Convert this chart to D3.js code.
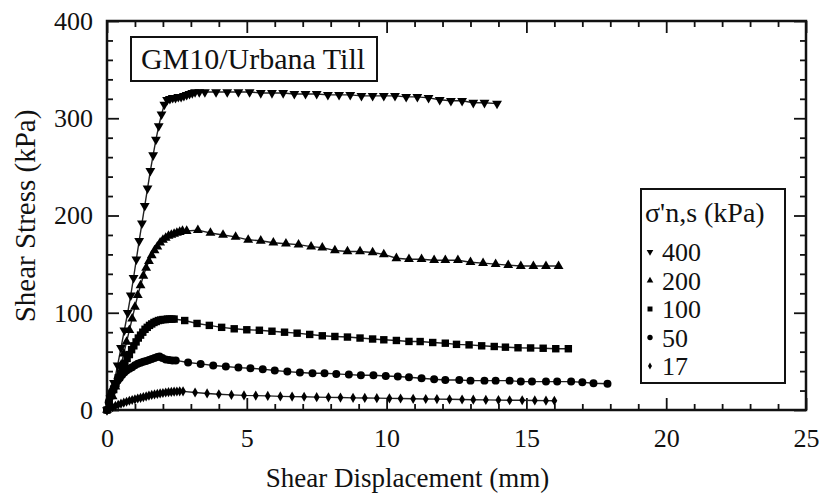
<!DOCTYPE html>
<html>
<head>
<meta charset="utf-8">
<script src="https://cdn.jsdelivr.net/npm/d3@7"></script>
<style>
	body { margin: 0; background: #fff; }
	svg { display: block; }
	text { font-family: "Times New Roman", "Liberation Serif", serif; fill: #111; }
</style>
</head>
<body>
<div id="chart"></div>
<script>
// Shear displacement (mm) and shear stress (kPa) per normal stress
const disp400 = [0, 0.12, 0.25, 0.38, 0.5, 0.62, 0.74, 0.85, 0.95, 1.05, 1.15, 1.25, 1.35, 1.45, 1.55, 1.65, 1.75, 1.85, 1.95, 2.05, 2.15, 2.25, 2.35, 2.45, 2.55, 2.65, 2.75, 2.85, 2.95, 3.05, 3.15, 3.3, 3.5, 3.9, 4.3, 4.7, 5.1, 5.5, 5.9, 6.3, 6.7, 7.1, 7.5, 7.9, 8.3, 8.7, 9.1, 9.5, 9.9, 10.3, 10.7, 11.1, 11.5, 11.9, 12.3, 12.7, 13.1, 13.5, 13.95];
const stress400 = [0, 12, 28, 46, 64, 82, 100, 118, 136, 155, 174, 192, 210, 228, 246, 262, 278, 292, 304, 314, 319, 320, 321, 321, 322, 322, 323, 324, 325, 326, 327, 327, 327, 327, 327, 327, 327, 326, 326, 326, 325, 325, 325, 324, 324, 324, 323, 323, 323, 323, 322, 322, 321, 319, 318, 318, 316, 316, 315];

const disp200 = [0, 0.1, 0.2, 0.3, 0.4, 0.5, 0.6, 0.7, 0.8, 0.9, 1.0, 1.1, 1.2, 1.3, 1.4, 1.5, 1.6, 1.7, 1.8, 1.9, 2.0, 2.1, 2.2, 2.3, 2.4, 2.5, 2.6, 2.7, 2.85, 3.25, 3.7, 4.15, 4.6, 5.05, 5.5, 5.95, 6.4, 6.85, 7.3, 7.7, 8.15, 8.6, 9.05, 9.5, 9.9, 10.35, 10.8, 11.25, 11.7, 12.1, 12.55, 13.0, 13.45, 13.9, 14.35, 14.8, 15.25, 15.7, 16.15];
const stress200 = [0, 6, 14, 24, 35, 46, 58, 70, 82, 94, 106, 118, 128, 138, 146, 153, 159, 164, 168, 172, 175, 177, 179, 180, 181, 182, 183, 184, 184, 185, 182, 180, 178, 175, 174, 172, 171, 170, 168, 167, 164, 163, 163, 162, 160, 156, 155, 155, 154, 154, 154, 152, 151, 150, 149, 148, 148, 148, 148];

const disp100 = [0, 0.08, 0.16, 0.24, 0.32, 0.4, 0.48, 0.56, 0.64, 0.72, 0.8, 0.88, 0.96, 1.04, 1.12, 1.2, 1.28, 1.36, 1.44, 1.52, 1.6, 1.68, 1.76, 1.84, 1.92, 2.0, 2.08, 2.16, 2.24, 2.32, 2.4, 2.78, 3.22, 3.66, 4.1, 4.55, 5.0, 5.45, 5.9, 6.35, 6.8, 7.25, 7.7, 8.15, 8.6, 9.05, 9.5, 9.9, 10.35, 10.8, 11.2, 11.65, 12.1, 12.5, 12.95, 13.4, 13.85, 14.25, 14.7, 15.15, 15.6, 16.05, 16.5];
const stress100 = [0, 8, 15, 21, 27, 33, 38, 43, 48, 53, 57, 62, 66, 70, 74, 77, 80, 83, 85, 87, 88.5, 90, 91, 92, 92.5, 93, 93, 93.5, 93.5, 93.5, 93.5, 92, 89, 87, 85, 83.5, 82.5, 82, 81, 80, 79, 77.7, 76.3, 75.6, 75, 74, 73, 72.2, 71.5, 70.5, 70.4, 69.4, 68.7, 67.5, 67, 66, 65.3, 64.6, 64, 63.8, 63.5, 63, 63];

const disp50 = [0, 0.06, 0.12, 0.18, 0.24, 0.3, 0.38, 0.46, 0.54, 0.62, 0.7, 0.8, 0.9, 1.0, 1.1, 1.2, 1.3, 1.4, 1.5, 1.6, 1.7, 1.8, 1.88, 1.98, 2.1, 2.22, 2.34, 2.46, 2.9, 3.35, 3.8, 4.25, 4.7, 5.13, 5.57, 6.0, 6.45, 6.9, 7.35, 7.78, 8.2, 8.65, 9.08, 9.53, 9.97, 10.4, 10.8, 11.25, 11.7, 12.1, 12.6, 13.0, 13.5, 13.9, 14.4, 14.8, 15.2, 15.7, 16.1, 16.6, 17.0, 17.4, 17.9];
const stress50 = [0, 8, 14, 19, 23, 27, 30, 33, 36, 38.5, 40.5, 42.5, 44, 46, 47.5, 48.5, 49.5, 50.5, 51.5, 52.5, 53.5, 54.5, 55, 53.5, 52, 51.5, 51, 51, 48.8, 47.4, 45.7, 44.7, 43.6, 43, 42, 40.6, 39.5, 38.5, 37.8, 37.8, 37.1, 36.4, 35.7, 35.7, 35, 34.4, 33.7, 32.6, 31.6, 30.9, 30.9, 30.2, 30.2, 30.2, 30.2, 29.2, 29.2, 29.2, 29.2, 29.2, 28.5, 27.5, 27];

const disp17 = [0, 0.1, 0.2, 0.3, 0.4, 0.5, 0.6, 0.7, 0.8, 0.9, 1.0, 1.1, 1.2, 1.3, 1.4, 1.5, 1.6, 1.7, 1.8, 1.9, 2.0, 2.1, 2.2, 2.3, 2.4, 2.5, 2.6, 2.72, 3.15, 3.58, 4.0, 4.45, 4.9, 5.32, 5.75, 6.2, 6.62, 7.05, 7.5, 7.92, 8.35, 8.8, 9.22, 9.65, 10.1, 10.5, 10.95, 11.4, 11.8, 12.25, 12.7, 13.1, 13.55, 14.0, 14.4, 14.85, 15.3, 15.7, 16.0];
const stress17 = [0, 1.5, 3, 4.2, 5.4, 6.5, 7.5, 8.5, 9.5, 10.3, 11, 11.8, 12.5, 13.3, 14, 14.8, 15.5, 16, 16.5, 17, 17.5, 18, 18.3, 18.6, 18.8, 19, 19.2, 19.2, 18, 17, 16.2, 15.5, 15, 14.8, 14.5, 14, 13.8, 13.6, 13.2, 13, 12.8, 12.5, 12.4, 12.2, 12, 11.8, 11.5, 11.3, 11.2, 11, 10.8, 10.6, 10.4, 10.2, 10, 10, 9.8, 9.6, 9.5];

const seriesLabels = ['400', '200', '100', '50', '17'];
const xTicks = [0, 5, 10, 15, 20, 25];
const yTicks = [0, 100, 200, 300, 400];

class ShearChart {
	constructor(_config) {
		this.config = {
			parentElement: _config.parentElement,
			containerWidth: 819,
			containerHeight: 495,
			margin: {top: 21, right: 13, bottom: 85, left: 107},
			tickFont: 26,
			titleFont: 28
		};
		this.series = [
			{label: seriesLabels[0], x: disp400, y: stress400, symbol: d3.symbolTriangle, rotate: 180, size: 42},
			{label: seriesLabels[1], x: disp200, y: stress200, symbol: d3.symbolTriangle, rotate: 0, size: 42},
			{label: seriesLabels[2], x: disp100, y: stress100, symbol: d3.symbolSquare, rotate: 0, size: 55},
			{label: seriesLabels[3], x: disp50, y: stress50, symbol: d3.symbolCircle, rotate: 0, size: 50},
			{label: seriesLabels[4], x: disp17, y: stress17, symbol: d3.symbolDiamond, rotate: 0, size: 30}
		];
		this.initVis();
	}

	initVis() {
		let vis = this;
		vis.width = vis.config.containerWidth - vis.config.margin.left - vis.config.margin.right;
		vis.height = vis.config.containerHeight - vis.config.margin.top - vis.config.margin.bottom;

		vis.xScale = d3.scaleLinear().domain([0, 25]).range([0, vis.width]);
		vis.yScale = d3.scaleLinear().domain([0, 400]).range([vis.height, 0]);

		vis.svg = d3.select(vis.config.parentElement).append('svg')
			.attr('width', vis.config.containerWidth)
			.attr('height', vis.config.containerHeight);

		vis.chartArea = vis.svg.append('g')
			.attr('transform', `translate(${vis.config.margin.left},${vis.config.margin.top})`);

		vis.renderAxes();
		vis.renderVis();
		vis.renderLabels();
	}

	renderAxes() {
		let vis = this;
		const minorX = d3.range(0, 26, 1).filter(d => d % 5 !== 0);
		const minorY = d3.range(0, 401, 20).filter(d => d % 100 !== 0);

		//Inward ticks on all four sides, major ones carry labels
		const axes = [
			{gen: d3.axisBottom, scale: vis.xScale, pos: `translate(0,${vis.height})`, major: xTicks, minor: minorX, labels: true, pad: 19},
			{gen: d3.axisTop, scale: vis.xScale, pos: 'translate(0,0)', major: xTicks, minor: minorX, labels: false, pad: 0},
			{gen: d3.axisLeft, scale: vis.yScale, pos: 'translate(0,0)', major: yTicks, minor: minorY, labels: true, pad: 14},
			{gen: d3.axisRight, scale: vis.yScale, pos: `translate(${vis.width},0)`, major: yTicks, minor: minorY, labels: false, pad: 0}
		];
		axes.forEach(a => {
			vis.chartArea.append('g')
				.attr('transform', a.pos)
				.call(a.gen(a.scale).tickValues(a.minor).tickSize(-6).tickFormat(''))
				.call(g => g.select('.domain').remove())
				.selectAll('line').attr('stroke', '#111').attr('stroke-width', 1.8);

			const major = vis.chartArea.append('g')
				.attr('transform', a.pos)
				.call(a.gen(a.scale).tickValues(a.major).tickSize(-12).tickPadding(a.pad)
					.tickFormat(a.labels ? d3.format('d') : ''));
			major.select('.domain').remove();
			major.selectAll('line').attr('stroke', '#111').attr('stroke-width', 1.8);
			major.selectAll('text')
				.style('font-family', '"Times New Roman", "Liberation Serif", serif')
				.style('font-size', vis.config.tickFont + 'px')
				.attr('fill', '#111');
		});

		vis.chartArea.append('rect')
			.attr('width', vis.width)
			.attr('height', vis.height)
			.attr('fill', 'none')
			.attr('stroke', '#111')
			.attr('stroke-width', 2.5);
	}

	renderVis() {
		let vis = this;
		const line = d3.line()
			.x(d => vis.xScale(d[0]))
			.y(d => vis.yScale(d[1]));

		vis.series.forEach(s => {
			const pts = s.x.map((d, i) => [d, s.y[i]]);
			const g = vis.chartArea.append('g').attr('class', 'series');

			g.append('path')
				.datum(pts)
				.attr('d', line)
				.attr('fill', 'none')
				.attr('stroke', '#222')
				.attr('stroke-width', 1.4);

			g.selectAll('.marker')
				.data(pts)
				.join('path')
				.attr('class', 'marker')
				.attr('transform', d => `translate(${vis.xScale(d[0])},${vis.yScale(d[1])}) rotate(${s.rotate})`)
				.attr('d', d3.symbol().type(s.symbol).size(s.size))
				.attr('fill', '#000');
		});
	}

	renderLabels() {
		let vis = this;
		const fs = vis.config.titleFont;

		//Axis titles
		vis.svg.append('text')
			.attr('x', vis.config.margin.left + vis.xScale(10.75))
			.attr('y', 487)
			.attr('text-anchor', 'middle')
			.style('font-size', '27px')
			.text('Shear Displacement (mm)');

		vis.svg.append('text')
			.attr('transform', 'translate(35,216) rotate(-90)')
			.attr('text-anchor', 'middle')
			.style('font-size', '29px')
			.text('Shear Stress (kPa)');

		//Material title box
		vis.svg.append('rect')
			.attr('x', 131).attr('y', 37)
			.attr('width', 246).attr('height', 44)
			.attr('fill', '#fff').attr('stroke', '#111').attr('stroke-width', 2);
		vis.svg.append('text')
			.attr('x', 253).attr('y', 69)
			.attr('text-anchor', 'middle')
			.style('font-size', '30px')
			.text('GM10/Urbana Till');

		//Legend
		const lx = 641, ly = 189;
		const legend = vis.svg.append('g').attr('transform', `translate(${lx},${ly})`);
		legend.append('rect')
			.attr('width', 144).attr('height', 194)
			.attr('fill', '#fff').attr('stroke', '#111').attr('stroke-width', 2);
		legend.append('text')
			.attr('x', 4).attr('y', 33)
			.style('font-size', fs + 'px')
			.text("σ'n,s (kPa)");

		const rows = legend.selectAll('.row')
			.data(vis.series)
			.join('g')
			.attr('class', 'row')
			.attr('transform', (d, i) => `translate(0,${63 + i * 28.5})`);
		rows.append('path')
			.attr('transform', d => `translate(9,0) rotate(${d.rotate})`)
			.attr('d', d => d3.symbol().type(d.symbol).size(d.size * 0.45)())
			.attr('fill', '#000');
		rows.append('text')
			.attr('x', 21).attr('y', 9)
			.style('font-size', '26px')
			.text(d => d.label);
	}
}

new ShearChart({parentElement: '#chart'});
</script>
</body>
</html>
